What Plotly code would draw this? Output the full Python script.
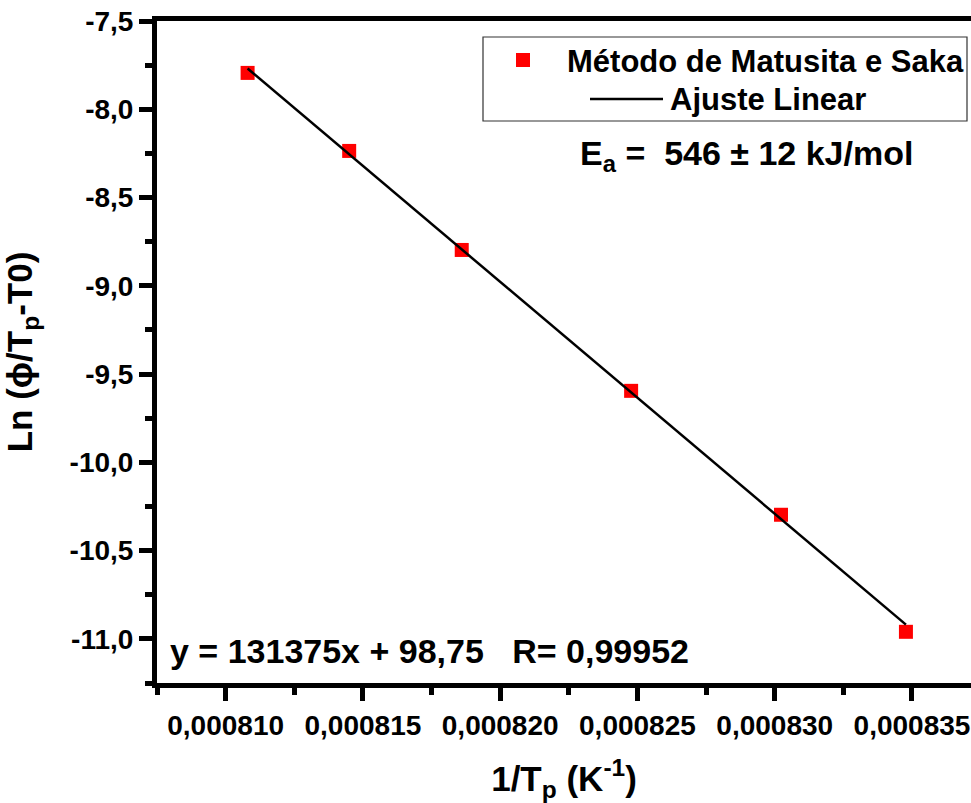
import plotly.graph_objects as go

# Kissinger-type plot data (Matusita & Sakka method)
inv_tp = [0.0008108, 0.0008145, 0.0008186, 0.00082477, 0.00083023, 0.00083478]
ln_rate = [-7.794, -8.236, -8.797, -9.595, -10.297, -10.960]

# linear fit coefficients (y = a*x + b)
fit_slope = -131375.0
fit_intercept = 98.75

x_tick_vals = [0.000810, 0.000815, 0.000820, 0.000825, 0.000830, 0.000835]
x_tick_text = ["0,000810", "0,000815", "0,000820", "0,000825", "0,000830", "0,000835"]
y_tick_vals = [-7.5, -8.0, -8.5, -9.0, -9.5, -10.0, -10.5, -11.0]
y_tick_text = ["-7,5", "-8,0", "-8,5", "-9,0", "-9,5", "-10,0", "-10,5", "-11,0"]

X_RANGE = [0.0008075, 0.00083715]
Y_RANGE = [-11.25, -7.5]

W, H = 971, 803
ML, MR, MT, MB = 157, 0, 21, 120
PW, PH = W - ML - MR, H - MT - MB

FONT = "Liberation Sans, Arial, sans-serif"


def paper(px, py):
    """Convert page pixel position to paper coordinates."""
    return (px - ML) / PW, 1 - (py - MT) / PH


fit_x = [inv_tp[0], inv_tp[-1]]
fit_y = [fit_slope * v + fit_intercept for v in fit_x]

fig = go.Figure()
fig.add_trace(go.Scatter(
    x=inv_tp, y=ln_rate, mode="markers",
    marker=dict(symbol="square", size=14, color="#ff0000", line=dict(width=0)),
    name="Método de Matusita e Saka", showlegend=False,
))
fig.add_trace(go.Scatter(
    x=fit_x, y=fit_y, mode="lines",
    line=dict(color="black", width=2.5),
    name="Ajuste Linear", showlegend=False,
))

axis_common = dict(
    showline=True, linecolor="black", linewidth=5,
    ticks="outside", ticklen=13, tickwidth=5, tickcolor="black",
    showgrid=False, zeroline=False,
)

fig.update_xaxes(
    range=X_RANGE, tickvals=x_tick_vals, ticktext=x_tick_text, mirror=True,
    tickfont=dict(family=FONT, size=28, color="black", weight="bold"),
    ticklabeloverflow="allow",
    minor=dict(ticks="outside", ticklen=7, tickwidth=5, tickcolor="black",
               dtick=2.5e-6, tick0=0.0008075),
    title=dict(text="1/T<sub>p</sub> (K<sup>-1</sup>)",
               font=dict(family=FONT, size=35, color="black", weight="bold"),
               standoff=32),
    **axis_common,
)
fig.update_yaxes(
    range=Y_RANGE, tickvals=y_tick_vals, ticktext=y_tick_text, mirror=False,
    tickfont=dict(family=FONT, size=28, color="black", weight="bold"),
    minor=dict(ticks="outside", ticklen=7, tickwidth=5, tickcolor="black",
               dtick=0.25, tick0=-7.5),
    title=dict(text="Ln (ϕ/T<sub>p</sub>-T0)",
               font=dict(family=FONT, size=35, color="black", weight="bold"),
               standoff=28),
    **axis_common,
)

# legend box drawn by hand
lx0, ly0 = paper(483, 37)
lx1, ly1 = paper(967, 121)
mx0, my0 = paper(516, 53)
mx1, my1 = paper(530, 67)
sx0, sy = paper(590, 99)
sx1, _ = paper(663, 99)
shapes = [
    dict(type="rect", xref="paper", yref="paper", x0=lx0, y0=ly0, x1=lx1, y1=ly1,
         line=dict(color="#333333", width=1.2), fillcolor="rgba(0,0,0,0)"),
    dict(type="rect", xref="paper", yref="paper", x0=mx0, y0=my0, x1=mx1, y1=my1,
         line=dict(width=0), fillcolor="#ff0000"),
    dict(type="line", xref="paper", yref="paper", x0=sx0, y0=sy, x1=sx1, y1=sy,
         line=dict(color="black", width=2.5)),
]

NB = "\u00a0"
annotations = []


def add_text(text, px, py, size):
    x, y = paper(px, py)
    annotations.append(dict(
        text=text, x=x, y=y, xref="paper", yref="paper",
        xanchor="left", yanchor="middle", showarrow=False,
        font=dict(family=FONT, size=size, color="black", weight="bold"),
    ))


add_text("Método de Matusita e Saka", 565, 61, 31)
add_text("Ajuste Linear", 668, 99, 31)
add_text(f"E<sub>a</sub> ={NB}{NB}546 ± 12 kJ/mol", 578, 155, 34)
add_text(f"y = 131375x + 98,75{NB}{NB}{NB}R= 0,99952", 168, 651, 34)

fig.update_layout(
    width=W, height=H,
    margin=dict(l=ML, r=MR, t=MT, b=MB, pad=0),
    paper_bgcolor="white", plot_bgcolor="white",
    font=dict(family=FONT, color="black"),
    shapes=shapes, annotations=annotations,
    showlegend=False,
)

fig.write_html("out.html")
